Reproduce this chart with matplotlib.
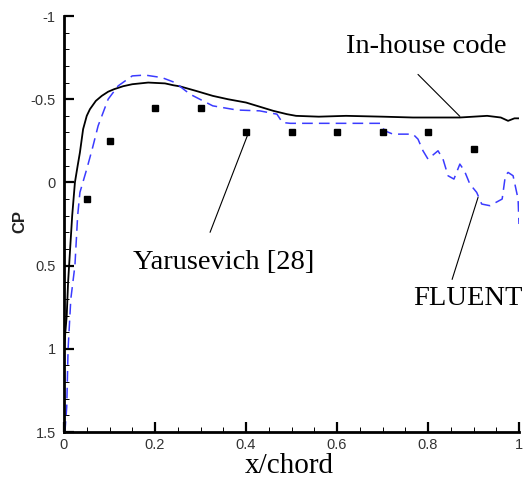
import numpy as np
import matplotlib
matplotlib.use("Agg")
import matplotlib.pyplot as plt
from matplotlib.ticker import MultipleLocator, FormatStrFormatter

plt.rcParams.update({'font.family': 'Liberation Sans', 'axes.unicode_minus': False})
SERIF = 'Liberation Serif'

# ── 数据 ──
inhouse_x = [0.0, 0.003, 0.006, 0.009, 0.013, 0.018, 0.024, 0.030, 0.035, 0.042, 0.050,
             0.057, 0.070, 0.083, 0.097, 0.110, 0.130, 0.150, 0.185, 0.222, 0.240,
             0.255, 0.290, 0.327, 0.360, 0.400, 0.430, 0.460, 0.490, 0.510, 0.560,
             0.620, 0.700, 0.767, 0.800, 0.870, 0.930, 0.960, 0.976, 0.990, 1.0]
inhouse_cp = [1.0, 0.9, 0.8, 0.6, 0.42, 0.2, 0.0, -0.1, -0.18, -0.32, -0.40,
              -0.44, -0.49, -0.52, -0.545, -0.56, -0.578, -0.59, -0.60, -0.595, -0.584,
              -0.577, -0.55, -0.52, -0.50, -0.48, -0.455, -0.43, -0.41, -0.40, -0.395,
              -0.40, -0.395, -0.39, -0.39, -0.39, -0.40, -0.39, -0.37, -0.385, -0.385]

fluent_x = [0.002, 0.006, 0.009, 0.015, 0.024, 0.030, 0.035, 0.050, 0.062, 0.075, 0.097,
            0.119, 0.150, 0.178, 0.215, 0.244, 0.277, 0.327, 0.380, 0.430, 0.468,
            0.480, 0.497, 0.600, 0.695, 0.705, 0.723, 0.767, 0.778, 0.789, 0.800,
            0.822, 0.833, 0.844, 0.857, 0.870, 0.880, 0.892, 0.907, 0.918, 0.936,
            0.963, 0.970, 0.976, 0.987, 0.998, 1.0]
fluent_cp = [1.5, 1.35, 1.0, 0.7, 0.5, 0.2, 0.06, -0.08, -0.2, -0.34, -0.5,
             -0.58, -0.64, -0.645, -0.63, -0.60, -0.53, -0.46, -0.435, -0.43, -0.41,
             -0.36, -0.355, -0.355, -0.355, -0.31, -0.29, -0.29, -0.26, -0.19, -0.14,
             -0.19, -0.14, -0.04, -0.02, -0.11, -0.07, 0.01, 0.06, 0.13, 0.14,
             0.10, -0.04, -0.06, -0.04, 0.10, 0.25]

exp_x = [0.05, 0.1, 0.2, 0.3, 0.4, 0.5, 0.6, 0.7, 0.8, 0.9]
exp_cp = [0.1, -0.25, -0.45, -0.45, -0.3, -0.3, -0.3, -0.3, -0.3, -0.2]

x_ticks = [0, 0.2, 0.4, 0.6, 0.8, 1]
y_ticks = [-1, -0.5, 0, 0.5, 1, 1.5]

W, H = 528, 482
fig = plt.figure(figsize=(W / 100, H / 100), dpi=100)
ax = fig.add_axes([64 / W, 1 - 432 / H, 455 / W, 416 / H])

ax.plot(inhouse_x, inhouse_cp, color='black', linewidth=1.3)
ax.plot(fluent_x, fluent_cp, color='#3b3bff', linewidth=1.1, linestyle=(0, (7, 4)))
ax.plot(exp_x, exp_cp, linestyle='none', marker='s', markersize=5, color='black')

ax.set_xlim(0, 1)
ax.set_ylim(1.5, -1)
ax.set_xticks(x_ticks)
ax.set_yticks(y_ticks)
ax.xaxis.set_major_formatter(FormatStrFormatter('%g'))
ax.yaxis.set_major_formatter(FormatStrFormatter('%g'))
ax.xaxis.set_minor_locator(MultipleLocator(0.05))
ax.yaxis.set_minor_locator(MultipleLocator(0.1))
for s in ['top', 'right']:
    ax.spines[s].set_visible(False)
for s in ['left', 'bottom']:
    ax.spines[s].set_linewidth(2)
ax.tick_params(which='major', direction='in', length=7, width=1.6, labelsize=10.5,
               labelcolor='#333333', pad=4)
ax.tick_params(which='minor', direction='in', length=3.5, width=0.7)
ax.tick_params(axis='y', which='major', pad=6)

ax.set_xlabel('x/chord', family=SERIF, fontsize=21)
ax.xaxis.set_label_coords(0.495, -0.05)
ax.set_ylabel('CP', fontsize=12, fontweight='bold', color='#222222')
ax.yaxis.set_label_coords(-0.08, 0.505)

line = dict(arrowstyle='-', color='black', linewidth=0.8, shrinkA=0, shrinkB=0)
ax.annotate('', xy=(0.870, -0.397), xytext=(0.778, -0.649), arrowprops=line)
ax.annotate('', xy=(0.404, -0.288), xytext=(0.321, 0.30), arrowprops=line)
ax.annotate('', xy=(0.910, 0.09), xytext=(0.853, 0.583), arrowprops=line)
ax.text(0.796, -0.817, 'In-house code', family=SERIF, fontsize=20.5, ha='center', va='center')
ax.text(0.352, 0.48, 'Yarusevich [28]', family=SERIF, fontsize=20.5, ha='center', va='center')
ax.text(0.888, 0.70, 'FLUENT', family=SERIF, fontsize=20.5, ha='center', va='center')

fig.savefig('out.png', dpi=100)
